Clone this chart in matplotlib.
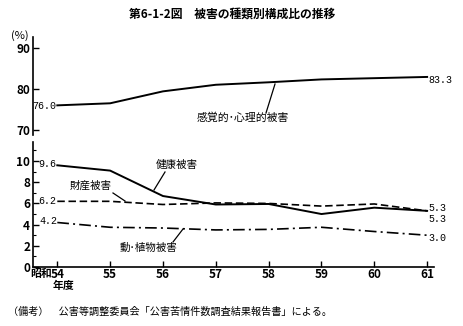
import matplotlib
matplotlib.use("Agg")
import matplotlib.pyplot as plt
from matplotlib.ticker import MultipleLocator

plt.rcParams['font.family'] = ['Noto Sans CJK JP', 'DejaVu Sans']

years = [54, 55, 56, 57, 58, 59, 60, 61]
year_labels = ["54", "55", "56", "57", "58", "59", "60", "61"]
sensory = [76.0, 76.5, 79.4, 81.0, 81.6, 82.3, 82.6, 82.9]
health = [9.6, 9.1, 6.7, 5.9, 5.95, 5.0, 5.6, 5.3]
property_dmg = [6.2, 6.2, 5.9, 6.05, 6.0, 5.75, 5.95, 5.3]
flora_fauna = [4.2, 3.75, 3.68, 3.5, 3.55, 3.75, 3.35, 3.0]

W, H = 464, 326
fig = plt.figure(figsize=(W / 100, H / 100), dpi=100)

def fx(px):
    return px / W

def fy(py):
    return 1 - py / H

xl = (53.54, 61.13)
ax_t = fig.add_axes([fx(33), fy(135), fx(434 - 33), fy(37) - fy(135)])
ax_b = fig.add_axes([fx(33), fy(267), fx(434 - 33), fy(142) - fy(267)])

lw = 1.4
ax_t.plot(years, sensory, color='black', lw=lw, solid_joinstyle='round')
ax_b.plot(years, health, color='black', lw=lw, solid_joinstyle='round')
ax_b.plot(years, property_dmg, color='black', lw=1.2, dashes=(4.5, 2.2))
ax_b.plot(years, flora_fauna, color='black', lw=1.2, dashes=(7, 2.5, 1.2, 2.5))

ax_t.set_xlim(*xl)
ax_t.set_ylim(68.8, 92.6)
ax_b.set_xlim(*xl)
ax_b.set_ylim(0, 11.8)

for ax in (ax_t, ax_b):
    ax.spines['top'].set_visible(False)
    ax.spines['right'].set_visible(False)
    ax.spines['left'].set_linewidth(1.2)
    ax.patch.set_alpha(0)

ax_t.spines['bottom'].set_visible(False)
ax_t.set_xticks([])
ax_t.set_yticks([70, 80, 90])
ax_t.tick_params(axis='y', direction='in', length=4, width=1, labelsize=8.5, pad=2)
for t in ax_t.get_yticklabels():
    t.set_fontweight('bold')

ax_b.spines['bottom'].set_linewidth(1.2)
ax_b.set_yticks([0, 2, 4, 6, 8, 10])
ax_b.yaxis.set_minor_locator(MultipleLocator(1))
ax_b.set_xticks(years)
ax_b.set_xticklabels(year_labels)
ax_b.tick_params(axis='both', which='major', direction='in', length=4, width=1, labelsize=8.5, pad=2)
ax_b.tick_params(axis='x', pad=1)
ax_b.tick_params(axis='y', which='minor', direction='in', length=2.5, width=0.8)
for t in ax_b.get_yticklabels() + ax_b.get_xticklabels():
    t.set_fontweight('bold')

mono = 'Liberation Mono'
fs = 7.2
# value labels
fig.text(fx(56.5), fy(106), "76.0", family=mono, fontsize=fs, va='center', ha='right')
fig.text(fx(428), fy(80), "83.3", family=mono, fontsize=fs, va='center', ha='left')
fig.text(fx(56), fy(164), "9.6", family=mono, fontsize=fs, va='center', ha='right')
fig.text(fx(56), fy(201), "6.2", family=mono, fontsize=fs, va='center', ha='right')
fig.text(fx(57), fy(221), "4.2", family=mono, fontsize=fs, va='center', ha='right')
fig.text(fx(428), fy(208), "5.3", family=mono, fontsize=fs, va='center', ha='left')
fig.text(fx(428), fy(219), "5.3", family=mono, fontsize=fs, va='center', ha='left')
fig.text(fx(428), fy(238), "3.0", family=mono, fontsize=fs, va='center', ha='left')

# series labels with leader lines
def leader(x0, y0, x1, y1):
    fig.add_artist(plt.Line2D([fx(x0), fx(x1)], [fy(y0), fy(y1)], color='black', lw=0.9))

fig.text(fx(243), fy(118), "感覚的･心理的被害", fontsize=7.8, ha='center', va='center')
leader(266, 113, 275, 84)
fig.text(fx(177), fy(165), "健康被害", fontsize=7.6, ha='center', va='center')
leader(165, 172, 154, 190)
fig.text(fx(91), fy(186), "財産被害", fontsize=7.6, ha='center', va='center')
leader(113, 193, 125, 201)
fig.text(fx(148), fy(248), "動･植物被害", fontsize=7.6, ha='center', va='center')
leader(173, 242, 183, 229)

fig.text(fx(20), fy(36), "(%)", fontsize=8, ha='center', va='center')
fig.text(fx(52), fy(273.5), "昭和", fontsize=7.8, ha='right', va='center', fontweight='bold')
fig.text(fx(64), fy(286), "年度", fontsize=7.8, ha='center', va='center', fontweight='bold')

fig.text(fx(232), fy(14), "第6-1-2図　被害の種類別構成比の推移", fontsize=8.5,
         ha='center', va='center', fontweight='bold')
fig.text(fx(8), fy(312), "（備考）　公害等調整委員会「公害苦情件数調査結果報告書」による。",
         fontsize=7.3, ha='left', va='center')

fig.savefig("out.png", dpi=100, facecolor='white')
